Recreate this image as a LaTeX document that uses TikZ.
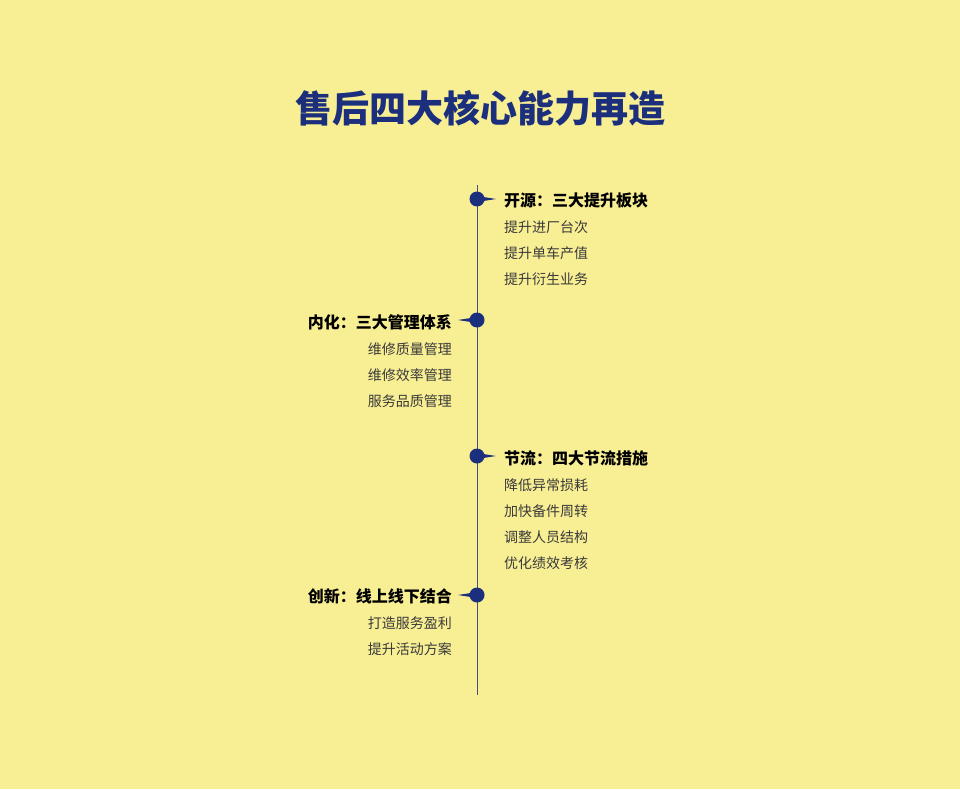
\documentclass[tikz,border=0pt]{standalone}
\usepackage{fontspec}
\setmainfont{Noto Sans CJK SC}
\definecolor{bg}{HTML}{F8EE94}
\definecolor{navy}{HTML}{1B2F7C}
\definecolor{txt}{HTML}{3A3A3A}
\begin{document}
\begin{tikzpicture}[x=1pt,y=-1pt,
  head/.style={font=\bfseries\fontsize{16}{18}\selectfont,text=black,inner sep=0pt},
  item/.style={font=\fontsize{14}{16}\selectfont,text=txt,inner sep=0pt},
  dot/.style={circle,fill=navy,inner sep=0pt,minimum size=15pt}]
\fill[bg] (0,0) rectangle (960,789);
\useasboundingbox (0,0) rectangle (960,789);
\node[font=\bfseries\fontsize{37}{40}\selectfont,text=navy] (title) at (480,108) {售后四大核心能力再造};
\coordinate (top) at (477,185); \coordinate (bot) at (477,695);
\draw[navy!60!gray,line width=1pt] (top) -- (bot);
\foreach \n/\y/\d in {a/199/1,b/320/-1,c/456/1,d/595/-1}{
  \node[dot] (\n) at (477,\y) {};
  \fill[navy] (477,\y-3) -- (477+\d*19,\y) -- (477,\y+3) -- cycle;
}
\node[head,anchor=west] (h1) at (504,200) {开源：三大提升板块};
\node[item,anchor=west] (i11) at (504,227) {提升进厂台次};
\node[item,anchor=west] (i12) at (504,253) {提升单车产值};
\node[item,anchor=west] (i13) at (504,279) {提升衍生业务};
\node[head,anchor=east] (h2) at (452,322) {内化：三大管理体系};
\node[item,anchor=east] (i21) at (452,349) {维修质量管理};
\node[item,anchor=east] (i22) at (452,375) {维修效率管理};
\node[item,anchor=east] (i23) at (452,401) {服务品质管理};
\node[head,anchor=west] (h3) at (504,458) {节流：四大节流措施};
\node[item,anchor=west] (i31) at (504,485) {降低异常损耗};
\node[item,anchor=west] (i32) at (504,511) {加快备件周转};
\node[item,anchor=west] (i33) at (504,537) {调整人员结构};
\node[item,anchor=west] (i34) at (504,563) {优化绩效考核};
\node[head,anchor=east] (h4) at (452,596) {创新：线上线下结合};
\node[item,anchor=east] (i41) at (452,623) {打造服务盈利};
\node[item,anchor=east] (i42) at (452,649) {提升活动方案};
\end{tikzpicture}
\end{document}
